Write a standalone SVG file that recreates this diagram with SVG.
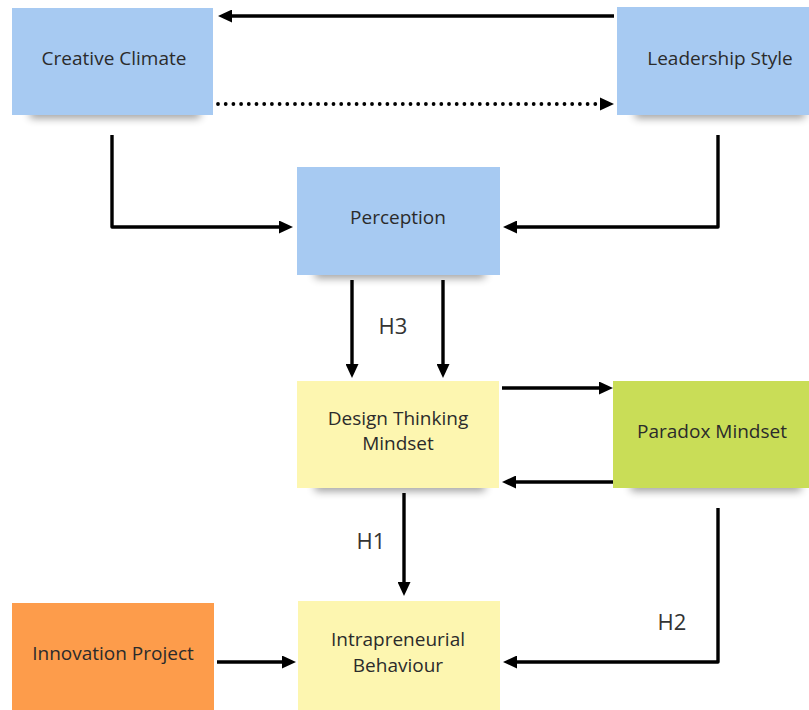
<svg xmlns="http://www.w3.org/2000/svg" width="809" height="710" viewBox="0 0 809 710">
<defs>
<style>
.blue{fill:#a7caf2}
.yellow{fill:#fdf6b0}
.green{fill:#c9dd57}
.orange{fill:#fd9c4b}
.sh{fill:#000;opacity:0.4;filter:url(#blur)}
.lbl{font-family:"Open Sans","Noto Sans",sans-serif;font-size:19px;fill:#2b2b2b;text-anchor:middle;dominant-baseline:central}
.h{font-family:"Open Sans","Noto Sans",sans-serif;font-size:22px;fill:#333;text-anchor:middle;dominant-baseline:central}
.c{fill:none;stroke:#000;stroke-width:3.4;stroke-linejoin:round}
.dot{fill:none;stroke:#000;stroke-width:3.8;stroke-linecap:round;stroke-dasharray:0 7.7}
</style>
<filter id="blur" x="-20%" y="-100%" width="140%" height="300%"><feGaussianBlur stdDeviation="4"/></filter>
<marker id="ah" viewBox="0 0 14 13" refX="0" refY="6.5" markerWidth="14" markerHeight="13" markerUnits="userSpaceOnUse" orient="auto"><path d="M0,0 L14,6.5 L0,13 Z" fill="#000"/></marker>
</defs>
<rect width="809" height="710" fill="#fff"/>
<g id="connectors">
<path class="c" d="M614,16 H232" marker-end="url(#ah)"/>
<path class="dot" d="M218,104 H598"/>
<path d="M600,97.5 L614,104 L600,110.5 Z" fill="#000"/>
<path class="c" d="M112,135 V227 H279" marker-end="url(#ah)"/>
<path class="c" d="M718,135 V227 H517" marker-end="url(#ah)"/>
<path class="c" d="M352,280 V364" marker-end="url(#ah)"/>
<path class="c" d="M443,280 V364" marker-end="url(#ah)"/>
<path class="c" d="M502,388 H599" marker-end="url(#ah)"/>
<path class="c" d="M613,482 H516" marker-end="url(#ah)"/>
<path class="c" d="M404,493 V582" marker-end="url(#ah)"/>
<path class="c" d="M718,508 V662 H517" marker-end="url(#ah)"/>
<path class="c" d="M217,662 H282" marker-end="url(#ah)"/>
<text class="h" x="393" y="325">H3</text>
<text class="h" x="371" y="540">H1</text>
<text class="h" x="672" y="621">H2</text>
</g>
<g id="creative-climate">
<rect class="sh" x="30" y="108" width="170" height="10"/>
<rect class="blue" x="12" y="8" width="201" height="107"/>
<text class="lbl" x="114" y="58">Creative Climate</text>
</g>
<g id="leadership-style">
<rect class="sh" x="635" y="108" width="170" height="10"/>
<rect class="blue" x="617" y="7" width="205" height="108"/>
<text class="lbl" x="720" y="58">Leadership Style</text>
</g>
<g id="perception">
<rect class="sh" x="315" y="268" width="170" height="10"/>
<rect class="blue" x="297" y="167" width="203" height="108"/>
<text class="lbl" x="398" y="217">Perception</text>
</g>
<g id="design-thinking-mindset">
<rect class="sh" x="315" y="481" width="170" height="10"/>
<rect class="yellow" x="297" y="381" width="202" height="107"/>
<text class="lbl" x="398" y="418">Design Thinking</text>
<text class="lbl" x="398" y="443">Mindset</text>
</g>
<g id="paradox-mindset">
<rect class="sh" x="631" y="481" width="170" height="10"/>
<rect class="green" x="613" y="381" width="200" height="107"/>
<text class="lbl" x="712" y="431">Paradox Mindset</text>
</g>
<g id="innovation-project">
<rect class="orange" x="12" y="603" width="202" height="107"/>
<text class="lbl" x="113" y="653">Innovation Project</text>
</g>
<g id="intrapreneurial-behaviour">
<rect class="yellow" x="298" y="601" width="202" height="109"/>
<text class="lbl" x="398" y="639">Intrapreneurial</text>
<text class="lbl" x="398" y="665">Behaviour</text>
</g>
</svg>
